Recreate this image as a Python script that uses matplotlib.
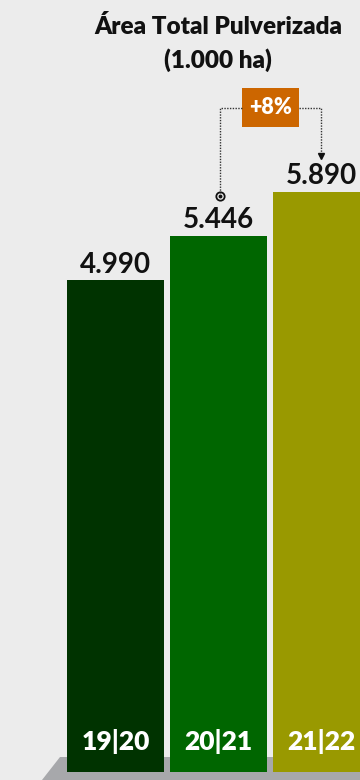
import matplotlib
matplotlib.use("Agg")
import matplotlib.pyplot as plt
from matplotlib.patches import Polygon, Rectangle

# Data
seasons = ["19|20", "20|21", "21|22"]
area = [4990, 5446, 5890]  # 1.000 ha
area_labels = ["4.990", "5.446", "5.890"]
growth_label = "+8%"
colors = ["#003300", "#006600", "#999900"]

bg = "#ececec"
plt.rcParams['font.family'] = ['Lato', 'DejaVu Sans']

fig = plt.figure(figsize=(3.6, 7.8), dpi=100)
fig.patch.set_facecolor(bg)

# Overlay axes in pixel units for decorations
deco = fig.add_axes([0, 0, 1, 1])
deco.set_xlim(0, 360)
deco.set_ylim(780, 0)
deco.axis('off')

# Grey platform under the bars
deco.add_patch(Polygon([(42, 780), (60, 757), (360, 757), (360, 780)],
                       closed=True, color="#a7a8ab", lw=0))

# Main bar axes
ax = fig.add_axes([0, 0, 1, 1])
ax.patch.set_alpha(0)
scale = 0.0985  # pixels per unit
ax.set_ylim(-8 / scale, 772 / scale)
ax.set_xlim(-115.5 / 103, (360 - 115.5) / 103)
ax.axis('off')

x = range(len(seasons))
bars = ax.bar(x, area, width=97 / 103, color=colors)

for i, b in enumerate(bars):
    cx = b.get_x() + b.get_width() / 2
    ax.annotate(area_labels[i], (cx, b.get_height()),
                xytext=(0, 2), textcoords="offset points",
                ha='center', va='bottom', fontsize=20, fontweight='bold',
                color="#111111")
    ax.text(cx, 30 / scale, seasons[i], ha='center', va='center',
            fontsize=19, fontweight='heavy', color='white')

# Title
deco.text(218, 27, "Área Total Pulverizada", ha='center', va='center',
          fontsize=17.5, fontweight='heavy', color="#111111")
deco.text(218, 60, "(1.000 ha)", ha='center', va='center',
          fontsize=17.5, fontweight='heavy', color="#111111")

# Growth bracket
dot = dict(color="#333333", lw=1, ls=(0, (1, 1)))
deco.plot([220, 220, 242], [193, 108, 108], **dot)
deco.plot([299, 321, 321], [108, 108, 152], **dot)
deco.plot([321], [156], marker='v', color="#111111", markersize=5)
deco.plot([220], [196], marker='o', markersize=6, mfc='none', mec="#111111", mew=1.3)
deco.plot([220], [196], marker='o', markersize=1.8, color="#111111")
deco.add_patch(Rectangle((242, 88), 57, 39, color="#cc6600", lw=0))
deco.text(270.5, 108, growth_label, ha='center', va='center',
          fontsize=15.5, fontweight='heavy', color='white')

fig.savefig("out.png", dpi=100, facecolor=bg)
